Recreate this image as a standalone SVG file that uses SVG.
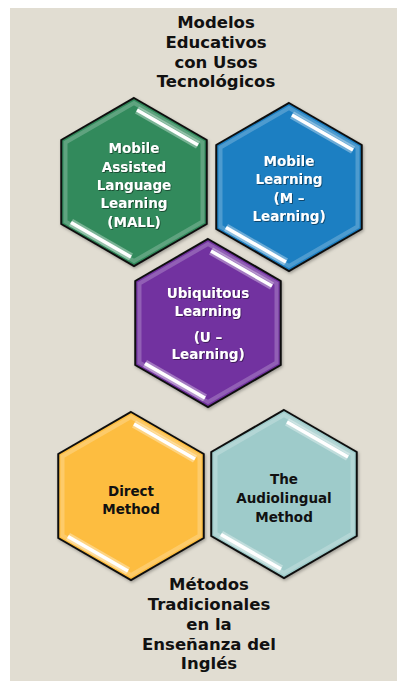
<svg xmlns="http://www.w3.org/2000/svg" width="403" height="681" viewBox="0 0 403 681">
<defs>
<style>
.bg{fill:#e1ddd2}
.hex{stroke:#111;stroke-width:2;stroke-linejoin:miter}
.inner{fill:none;stroke:#fff;stroke-opacity:0.22;stroke-width:4}
.glow{stroke:#fff;stroke-opacity:0.35;stroke-width:8;stroke-linecap:butt}
.shine{stroke:#fff;stroke-width:3.5;stroke-linecap:butt}
.t{font-family:"DejaVu Sans","Liberation Sans",sans-serif;font-weight:bold;text-anchor:middle}
.title{font-size:16.5px;fill:#111}
.lw{font-size:13.5px;fill:#fff;filter:url(#ts)}
.lb{font-size:13.5px;fill:#111}
</style>
<filter id="ts" x="-10%" y="-20%" width="120%" height="150%">
<feDropShadow dx="0.8" dy="0.8" stdDeviation="0.5" flood-color="#000" flood-opacity="0.55"/>
</filter>
<filter id="ds" x="-10%" y="-10%" width="120%" height="120%">
<feDropShadow dx="1" dy="1.5" stdDeviation="1.5" flood-color="#000" flood-opacity="0.3"/>
</filter>
<polygon id="hexshape" points="0,-84 72.75,-42 72.75,42 0,84 -72.75,42 -72.75,-42"/>
<g id="gloss">
<polygon points="-68.5,-39.5 0,-79 68.5,-39.5 68.5,39.5 0,79 -68.5,39.5" class="inner"/>
<line x1="3" y1="-72" x2="64" y2="-37" class="glow"/>
<line x1="3" y1="-72" x2="64" y2="-37" class="shine"/>
<line x1="-63" y1="40.5" x2="-3" y2="75" class="glow"/>
<line x1="-63" y1="40.5" x2="-3" y2="75" class="shine"/>
</g>
</defs>
<rect class="bg" x="10" y="8" width="387" height="673"/>

<g id="title">
<text class="t title" x="216" y="28">Modelos</text>
<text class="t title" x="216" y="48">Educativos</text>
<text class="t title" x="216" y="68">con Usos</text>
<text class="t title" x="216" y="87">Tecnológicos</text>
</g>

<g id="connectors"></g>

<g id="mall" transform="translate(134,182)">
<use href="#hexshape" class="hex" fill="#318a5b" filter="url(#ds)"/>
<use href="#gloss"/>
<text class="t lw" x="0" y="-29">Mobile</text>
<text class="t lw" x="0" y="-10">Assisted</text>
<text class="t lw" x="0" y="8">Language</text>
<text class="t lw" x="0" y="26">Learning</text>
<text class="t lw" x="0" y="45">(MALL)</text>
</g>

<g id="mlearning" transform="translate(289,187)">
<use href="#hexshape" class="hex" fill="#1c7fc2" filter="url(#ds)"/>
<use href="#gloss"/>
<text class="t lw" x="0" y="-21">Mobile</text>
<text class="t lw" x="0" y="-3">Learning</text>
<text class="t lw" x="0" y="16">(M –</text>
<text class="t lw" x="0" y="34">Learning)</text>
</g>

<g id="ulearning" transform="translate(208,323)">
<use href="#hexshape" class="hex" fill="#7232a0" filter="url(#ds)"/>
<use href="#gloss"/>
<text class="t lw" x="0" y="-25">Ubiquitous</text>
<text class="t lw" x="0" y="-7">Learning</text>
<text class="t lw" x="0" y="19">(U –</text>
<text class="t lw" x="0" y="36">Learning)</text>
</g>

<g id="direct" transform="translate(131,496)">
<use href="#hexshape" class="hex" fill="#fdbd3f" filter="url(#ds)"/>
<use href="#gloss"/>
<text class="t lb" x="0" y="0">Direct</text>
<text class="t lb" x="0" y="18">Method</text>
</g>

<g id="audio" transform="translate(284,494)">
<use href="#hexshape" class="hex" fill="#9ecbca" filter="url(#ds)"/>
<use href="#gloss"/>
<text class="t lb" x="0" y="-10">The</text>
<text class="t lb" x="0" y="9">Audiolingual</text>
<text class="t lb" x="0" y="28">Method</text>
</g>

<g id="subtitle">
<text class="t title" x="209" y="590">Métodos</text>
<text class="t title" x="209" y="610">Tradicionales</text>
<text class="t title" x="209" y="630">en la</text>
<text class="t title" x="209" y="650">Enseñanza del</text>
<text class="t title" x="209" y="669">Inglés</text>
</g>
</svg>
